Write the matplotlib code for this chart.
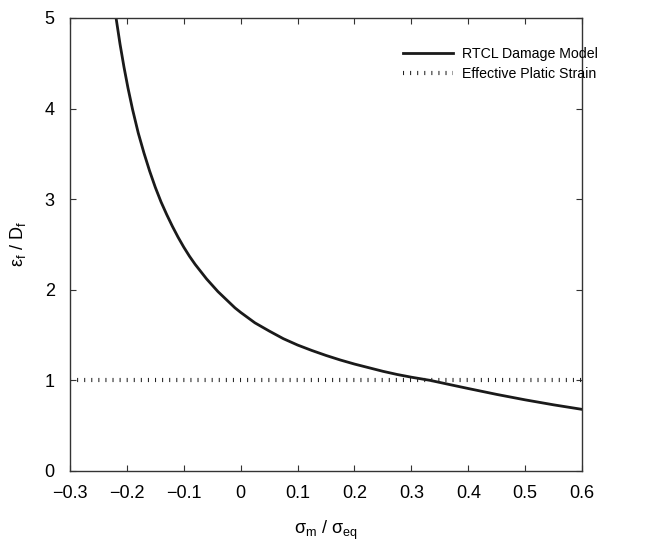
import matplotlib
matplotlib.use("Agg")
import matplotlib.pyplot as plt

plt.rcParams["font.family"] = ["Liberation Sans", "DejaVu Sans"]
plt.rcParams["mathtext.fontset"] = "custom"
plt.rcParams["mathtext.rm"] = "Liberation Sans"
plt.rcParams["mathtext.it"] = "Liberation Sans:italic"
plt.rcParams["mathtext.default"] = "regular"

# stress triaxiality sigma_m / sigma_eq
triax = [-0.219, -0.212, -0.205, -0.198, -0.19, -0.18, -0.17, -0.16, -0.15, -0.14,
         -0.13, -0.12, -0.11, -0.10, -0.09, -0.08, -0.07, -0.06, -0.05, -0.04,
         -0.03, -0.02, -0.01, 0.0, 0.025, 0.05, 0.075, 0.10, 0.125, 0.15,
         0.175, 0.20, 0.225, 0.25, 0.275, 0.30, 0.333, 0.37, 0.40, 0.45,
         0.50, 0.55, 0.60]
# RTCL damage model eps_f / D_f
rtcl = [5.0, 4.71, 4.455, 4.225, 3.99, 3.73, 3.51, 3.31, 3.13, 2.97,
        2.83, 2.70, 2.58, 2.47, 2.37, 2.28, 2.20, 2.12, 2.05, 1.98,
        1.92, 1.86, 1.80, 1.75, 1.635, 1.545, 1.46, 1.39, 1.33, 1.275,
        1.225, 1.18, 1.14, 1.10, 1.065, 1.035, 1.0, 0.95, 0.91, 0.845,
        0.785, 0.73, 0.68]
# effective plastic strain criterion (constant)
eps_x = [-0.3, 0.6]
eps_y = [1.0, 1.0]

xticks = [-0.3, -0.2, -0.1, 0, 0.1, 0.2, 0.3, 0.4, 0.5, 0.6]
xticklabels = ["\u22120.3", "\u22120.2", "\u22120.1", "0", "0.1", "0.2", "0.3", "0.4", "0.5", "0.6"]
yticks = [0, 1, 2, 3, 4, 5]

fig = plt.figure(figsize=(6.6, 5.42), dpi=100)
ax = fig.add_axes([0.106, 0.131, 0.776, 0.836])

ax.plot(triax, rtcl, color="#1a1a1a", lw=2.0, label="RTCL Damage Model")
ax.plot(eps_x, eps_y, color="#222222", lw=3.0, dashes=(0.25, 1.45),
        dash_capstyle="butt", label="Effective Platic Strain")

ax.set_xlim(-0.3, 0.6)
ax.set_ylim(0, 5)
ax.set_xticks(xticks)
ax.set_xticklabels(xticklabels)
ax.set_yticks(yticks)
ax.tick_params(direction="in", top=True, right=True, length=4, width=0.8,
               labelsize=13, color="#333333")
ax.tick_params(axis="x", pad=10)
ax.tick_params(axis="y", pad=11)
for s in ax.spines.values():
    s.set_color("#333333")
    s.set_linewidth(1.0)

ax.set_xlabel("\u03c3$_m$ / \u03c3$_{eq}$", fontsize=13, labelpad=12)
ax.set_ylabel("\u03b5$_f$ / D$_f$", fontsize=13, labelpad=12)

ax.legend(loc="upper left", frameon=False, fontsize=10.2, handlelength=3.5,
          handletextpad=0.65, labelspacing=0.45, borderpad=0, borderaxespad=0,
          bbox_to_anchor=(0.611, 0.914), bbox_transform=fig.transFigure)

fig.savefig("out.png", dpi=100)
